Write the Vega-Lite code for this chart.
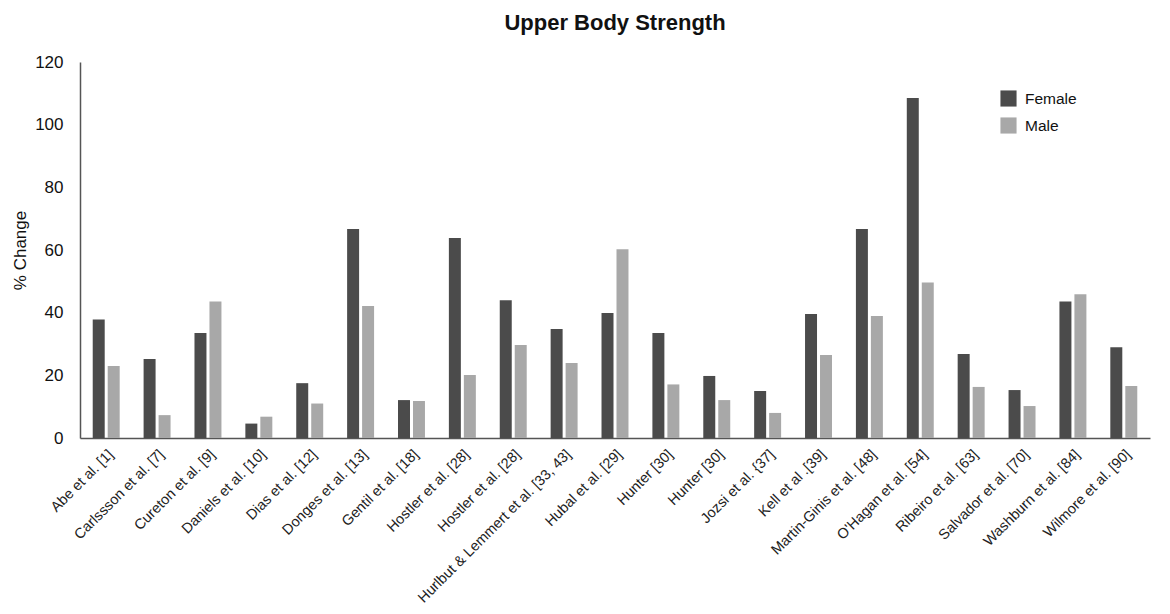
{
  "$schema": "https://vega.github.io/schema/vega-lite/v6.json",
  "width": 1070,
  "height": 376,
  "autosize": "none",
  "padding": {"left": 80, "top": 62, "right": 20, "bottom": 176},
  "background": "white",
  "title": {"text": "Upper Body Strength", "font": "Liberation Sans", "fontSize": 22, "fontWeight": "bold", "color": "#111", "offset": 18, "anchor": "middle"},
  "config": {"view": {"stroke": null}, "font": "Liberation Sans"},
  "data": {"values": [
    {"study": "01|Abe et al. [1]", "sex": "Female", "value": 37.8},
    {"study": "01|Abe et al. [1]", "sex": "Male", "value": 23},
    {"study": "02|Carlssson et al. [7]", "sex": "Female", "value": 25.2},
    {"study": "02|Carlssson et al. [7]", "sex": "Male", "value": 7.3},
    {"study": "03|Cureton et al. [9]", "sex": "Female", "value": 33.5},
    {"study": "03|Cureton et al. [9]", "sex": "Male", "value": 43.6},
    {"study": "04|Daniels et al. [10]", "sex": "Female", "value": 4.6},
    {"study": "04|Daniels et al. [10]", "sex": "Male", "value": 6.8},
    {"study": "05|Dias et al. [12]", "sex": "Female", "value": 17.5},
    {"study": "05|Dias et al. [12]", "sex": "Male", "value": 11},
    {"study": "06|Donges et al. [13]", "sex": "Female", "value": 66.7},
    {"study": "06|Donges et al. [13]", "sex": "Male", "value": 42.1},
    {"study": "07|Gentil et al. [18]", "sex": "Female", "value": 12.1},
    {"study": "07|Gentil et al. [18]", "sex": "Male", "value": 11.8},
    {"study": "08|Hostler et al. [28]", "sex": "Female", "value": 63.8},
    {"study": "08|Hostler et al. [28]", "sex": "Male", "value": 20.1},
    {"study": "09|Hostler et al. [28]", "sex": "Female", "value": 44},
    {"study": "09|Hostler et al. [28]", "sex": "Male", "value": 29.7},
    {"study": "10|Hurlbut & Lemmert et al. [33, 43]", "sex": "Female", "value": 34.8},
    {"study": "10|Hurlbut & Lemmert et al. [33, 43]", "sex": "Male", "value": 23.9},
    {"study": "11|Hubal et al. [29]", "sex": "Female", "value": 39.9},
    {"study": "11|Hubal et al. [29]", "sex": "Male", "value": 60.2},
    {"study": "12|Hunter [30]", "sex": "Female", "value": 33.5},
    {"study": "12|Hunter [30]", "sex": "Male", "value": 17.1},
    {"study": "13|Hunter [30]", "sex": "Female", "value": 19.8},
    {"study": "13|Hunter [30]", "sex": "Male", "value": 12.1},
    {"study": "14|Jozsi et al. {37]", "sex": "Female", "value": 15},
    {"study": "14|Jozsi et al. {37]", "sex": "Male", "value": 8},
    {"study": "15|Kell et al .[39]", "sex": "Female", "value": 39.6},
    {"study": "15|Kell et al .[39]", "sex": "Male", "value": 26.5},
    {"study": "16|Martin-Ginis et al. [48]", "sex": "Female", "value": 66.7},
    {"study": "16|Martin-Ginis et al. [48]", "sex": "Male", "value": 38.9},
    {"study": "17|O'Hagan et al. [54]", "sex": "Female", "value": 108.5},
    {"study": "17|O'Hagan et al. [54]", "sex": "Male", "value": 49.6},
    {"study": "18|Ribeiro et al. [63]", "sex": "Female", "value": 26.8},
    {"study": "18|Ribeiro et al. [63]", "sex": "Male", "value": 16.3},
    {"study": "19|Salvador et al. [70]", "sex": "Female", "value": 15.3},
    {"study": "19|Salvador et al. [70]", "sex": "Male", "value": 10.2},
    {"study": "20|Washburn et al. [84]", "sex": "Female", "value": 43.6},
    {"study": "20|Washburn et al. [84]", "sex": "Male", "value": 45.9},
    {"study": "21|Wilmore et al. [90]", "sex": "Female", "value": 29},
    {"study": "21|Wilmore et al. [90]", "sex": "Male", "value": 16.6}
  ]},
  "mark": {"type": "bar"},
  "encoding": {
    "x": {"field": "study", "type": "nominal", "sort": "ascending",
      "scale": {"paddingInner": 0.47, "paddingOuter": 0.25},
      "axis": {"title": null, "labelExpr": "split(datum.value, '|')[1]", "labelAngle": -45, "labelFontSize": 14.5, "labelColor": "#222", "labelPadding": 9, "ticks": false, "domainColor": "#555", "domainWidth": 1.5, "labelOverlap": false, "labelLimit": 400}},
    "xOffset": {"field": "sex", "type": "nominal", "scale": {"paddingInner": 0.2}},
    "y": {"field": "value", "type": "quantitative",
      "scale": {"domain": [0, 120]},
      "axis": {"title": "% Change", "titleFontSize": 17, "titleFontWeight": "normal", "titleColor": "#111", "titlePadding": 5, "values": [0, 20, 40, 60, 80, 100, 120], "labelFontSize": 17, "labelColor": "#111", "labelPadding": 17, "ticks": false, "grid": false, "domainColor": "#555", "domainWidth": 1.5}},
    "color": {"field": "sex", "type": "nominal",
      "scale": {"domain": ["Female", "Male"], "range": ["#4b4b4b", "#a8a8a8"]},
      "legend": {"title": null, "orient": "none", "legendX": 920, "legendY": 28, "symbolType": "square", "symbolSize": 260, "symbolStrokeWidth": 0, "labelFontSize": 15.5, "labelColor": "#111", "rowPadding": 10, "labelOffset": 8}}
  }
}
